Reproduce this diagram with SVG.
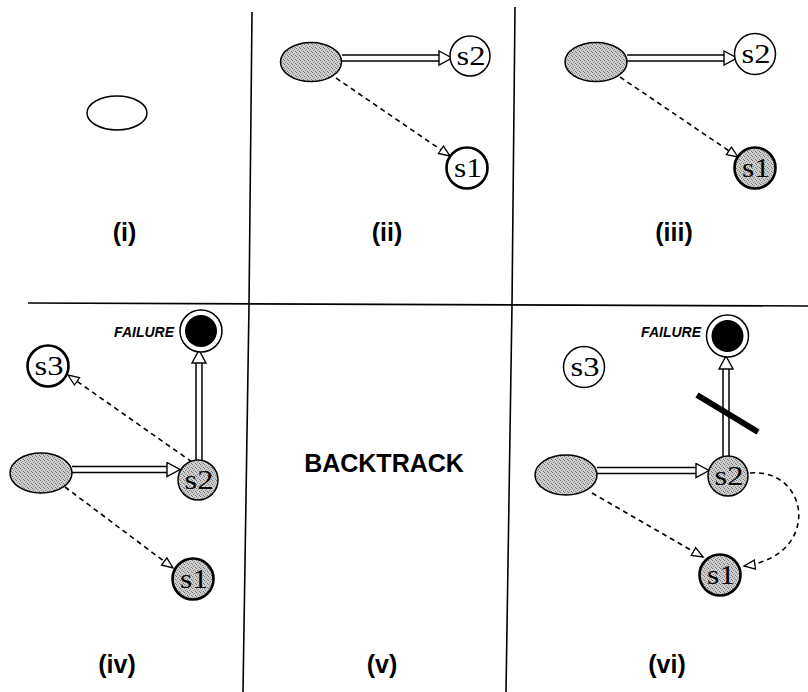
<svg xmlns="http://www.w3.org/2000/svg" width="808" height="692" viewBox="0 0 808 692">
<defs>
<pattern id="stip" patternUnits="userSpaceOnUse" width="4" height="4">
<rect width="4" height="4" fill="#cfcfcf"/>
<rect x="0" y="0" width="1" height="1" fill="#707070"/>
<rect x="2" y="1" width="1" height="1" fill="#929292"/>
<rect x="1" y="2" width="1" height="1" fill="#828282"/>
<rect x="3" y="3" width="1" height="1" fill="#707070"/>
</pattern>
<marker id="dh" markerUnits="userSpaceOnUse" markerWidth="15" markerHeight="13" refX="12" refY="5.5" orient="auto">
<path d="M1,1 L12,5.5 L1,10 Z" fill="#fff" stroke="#000" stroke-width="1.3"/>
</marker>
<marker id="bh" markerUnits="userSpaceOnUse" markerWidth="16" markerHeight="18" refX="1" refY="8" orient="auto">
<path d="M1,1 L14,8 L1,15 Z" fill="#fff" stroke="#000" stroke-width="1.4"/>
</marker>
</defs>
<style>
.grid{stroke:#000;stroke-width:1.6;fill:none}
.el{stroke:#000;stroke-width:1.5}
.grey{fill:url(#stip)}
.thin{fill:#fff;stroke:#000;stroke-width:1.5}
.thick{stroke:#000;stroke-width:2.6}
.slab{font-family:"Liberation Serif","Times New Roman",serif;font-size:27px;text-anchor:middle;fill:#000}
.lab{font-family:"Liberation Sans",Arial,sans-serif;font-weight:bold;font-size:25px;text-anchor:middle;fill:#000}
.fail{font-family:"Liberation Sans",Arial,sans-serif;font-weight:bold;font-style:italic;font-size:14px;text-anchor:end;fill:#000}
.dash{fill:none;stroke:#000;stroke-width:1.6;stroke-dasharray:5,4;marker-end:url(#dh)}
.dblo{fill:none;stroke:#000;stroke-width:7.5}
.dbli{fill:none;stroke:#fff;stroke-width:4.5;marker-end:url(#bh)}
</style>

<g id="grid">
<path class="grid" d="M252,12 L249,305 L243,692"/>
<path class="grid" d="M515,7 L512,305 L506,692"/>
<path class="grid" d="M28,303 L808,306"/>
</g>

<g id="connectors">
<path class="dblo" d="M342,58 L439,58"/>
<path class="dbli" d="M342,58 L439,58"/>
<path class="dash" d="M336,78 L450,156"/>
<path class="dblo" d="M627,58 L724,58"/>
<path class="dbli" d="M627,58 L724,58"/>
<path class="dash" d="M620,77 L738,157"/>
<path class="dblo" d="M72,469.5 L167,469.5"/>
<path class="dbli" d="M72,469.5 L167,469.5"/>
<path class="dblo" d="M199,460 L199,363"/>
<path class="dbli" d="M199,460 L199,363"/>
<path class="dash" d="M192,462 L68,375"/>
<path class="dash" d="M65,487 L173,568"/>
<path class="dblo" d="M597,470.5 L696,470.5"/>
<path class="dbli" d="M597,470.5 L696,470.5"/>
<path class="dblo" d="M726,456 L726,369"/>
<path class="dbli" d="M726,456 L726,369"/>
<path class="dash" d="M592,493 L703,557"/>
<path class="dash" d="M750,473 C810,468 822,556 744,566"/>
<line x1="697" y1="395" x2="758" y2="432" stroke="#000" stroke-width="6"/>
</g>

<g id="p1-root"><ellipse cx="117" cy="113" rx="30" ry="17" fill="#fff" class="el"/></g>

<g id="p2-root"><ellipse cx="311" cy="62" rx="30.5" ry="19.5" class="el grey"/></g>
<g id="p2-s2"><circle cx="470" cy="56" r="20" class="thin"/><text class="slab" x="471" y="65" textLength="29" lengthAdjust="spacingAndGlyphs">s2</text></g>
<g id="p2-s1"><circle cx="467" cy="168" r="20.5" class="thick" fill="#fff"/><text class="slab" x="468" y="177" textLength="28" lengthAdjust="spacingAndGlyphs">s1</text></g>

<g id="p3-root"><ellipse cx="596" cy="62" rx="31" ry="19.5" class="el grey"/></g>
<g id="p3-s2"><circle cx="755" cy="54" r="20.5" class="thin"/><text class="slab" x="756" y="63" textLength="29" lengthAdjust="spacingAndGlyphs">s2</text></g>
<g id="p3-s1"><circle cx="755" cy="168" r="20.5" class="thick grey"/><text class="slab" x="756" y="177" textLength="28" lengthAdjust="spacingAndGlyphs">s1</text></g>

<g id="p4-root"><ellipse cx="41" cy="473" rx="31" ry="20" class="el grey"/></g>
<g id="p4-s3"><circle cx="48" cy="366" r="20.5" class="thick" fill="#fff"/><text class="slab" x="49" y="375" textLength="29" lengthAdjust="spacingAndGlyphs">s3</text></g>
<g id="p4-s2"><circle cx="198" cy="480" r="20" class="el grey"/><text class="slab" x="199" y="489" textLength="29" lengthAdjust="spacingAndGlyphs">s2</text></g>
<g id="p4-s1"><circle cx="193" cy="579" r="20.5" class="thick grey"/><text class="slab" x="194" y="588" textLength="28" lengthAdjust="spacingAndGlyphs">s1</text></g>
<g id="p4-failure"><circle cx="201" cy="331" r="21" class="thin"/><circle cx="201" cy="331" r="16" fill="#000"/><text class="fail" x="174" y="337">FAILURE</text></g>

<g id="p5-backtrack"><text class="lab" x="384" y="472" font-size="26">BACKTRACK</text></g>

<g id="p6-root"><ellipse cx="566" cy="475" rx="31" ry="20" class="el grey"/></g>
<g id="p6-s3"><circle cx="584" cy="367" r="20.5" class="el" fill="#fff" stroke-width="2"/><text class="slab" x="585" y="376" textLength="29" lengthAdjust="spacingAndGlyphs">s3</text></g>
<g id="p6-s2"><circle cx="728" cy="476" r="20" class="el grey"/><text class="slab" x="729" y="485" textLength="29" lengthAdjust="spacingAndGlyphs">s2</text></g>
<g id="p6-s1"><circle cx="720" cy="575" r="20.5" class="thick grey"/><text class="slab" x="721" y="584" textLength="28" lengthAdjust="spacingAndGlyphs">s1</text></g>
<g id="p6-failure"><circle cx="727.5" cy="336" r="21" class="thin"/><circle cx="727.5" cy="336" r="16" fill="#000"/><text class="fail" x="701" y="337">FAILURE</text></g>

<g id="labels">
<text class="lab" x="124.5" y="241">(i)</text>
<text class="lab" x="387" y="241">(ii)</text>
<text class="lab" x="674" y="241">(iii)</text>
<text class="lab" x="117" y="673">(iv)</text>
<text class="lab" x="382" y="673">(v)</text>
<text class="lab" x="667" y="673">(vi)</text>
</g>
</svg>
